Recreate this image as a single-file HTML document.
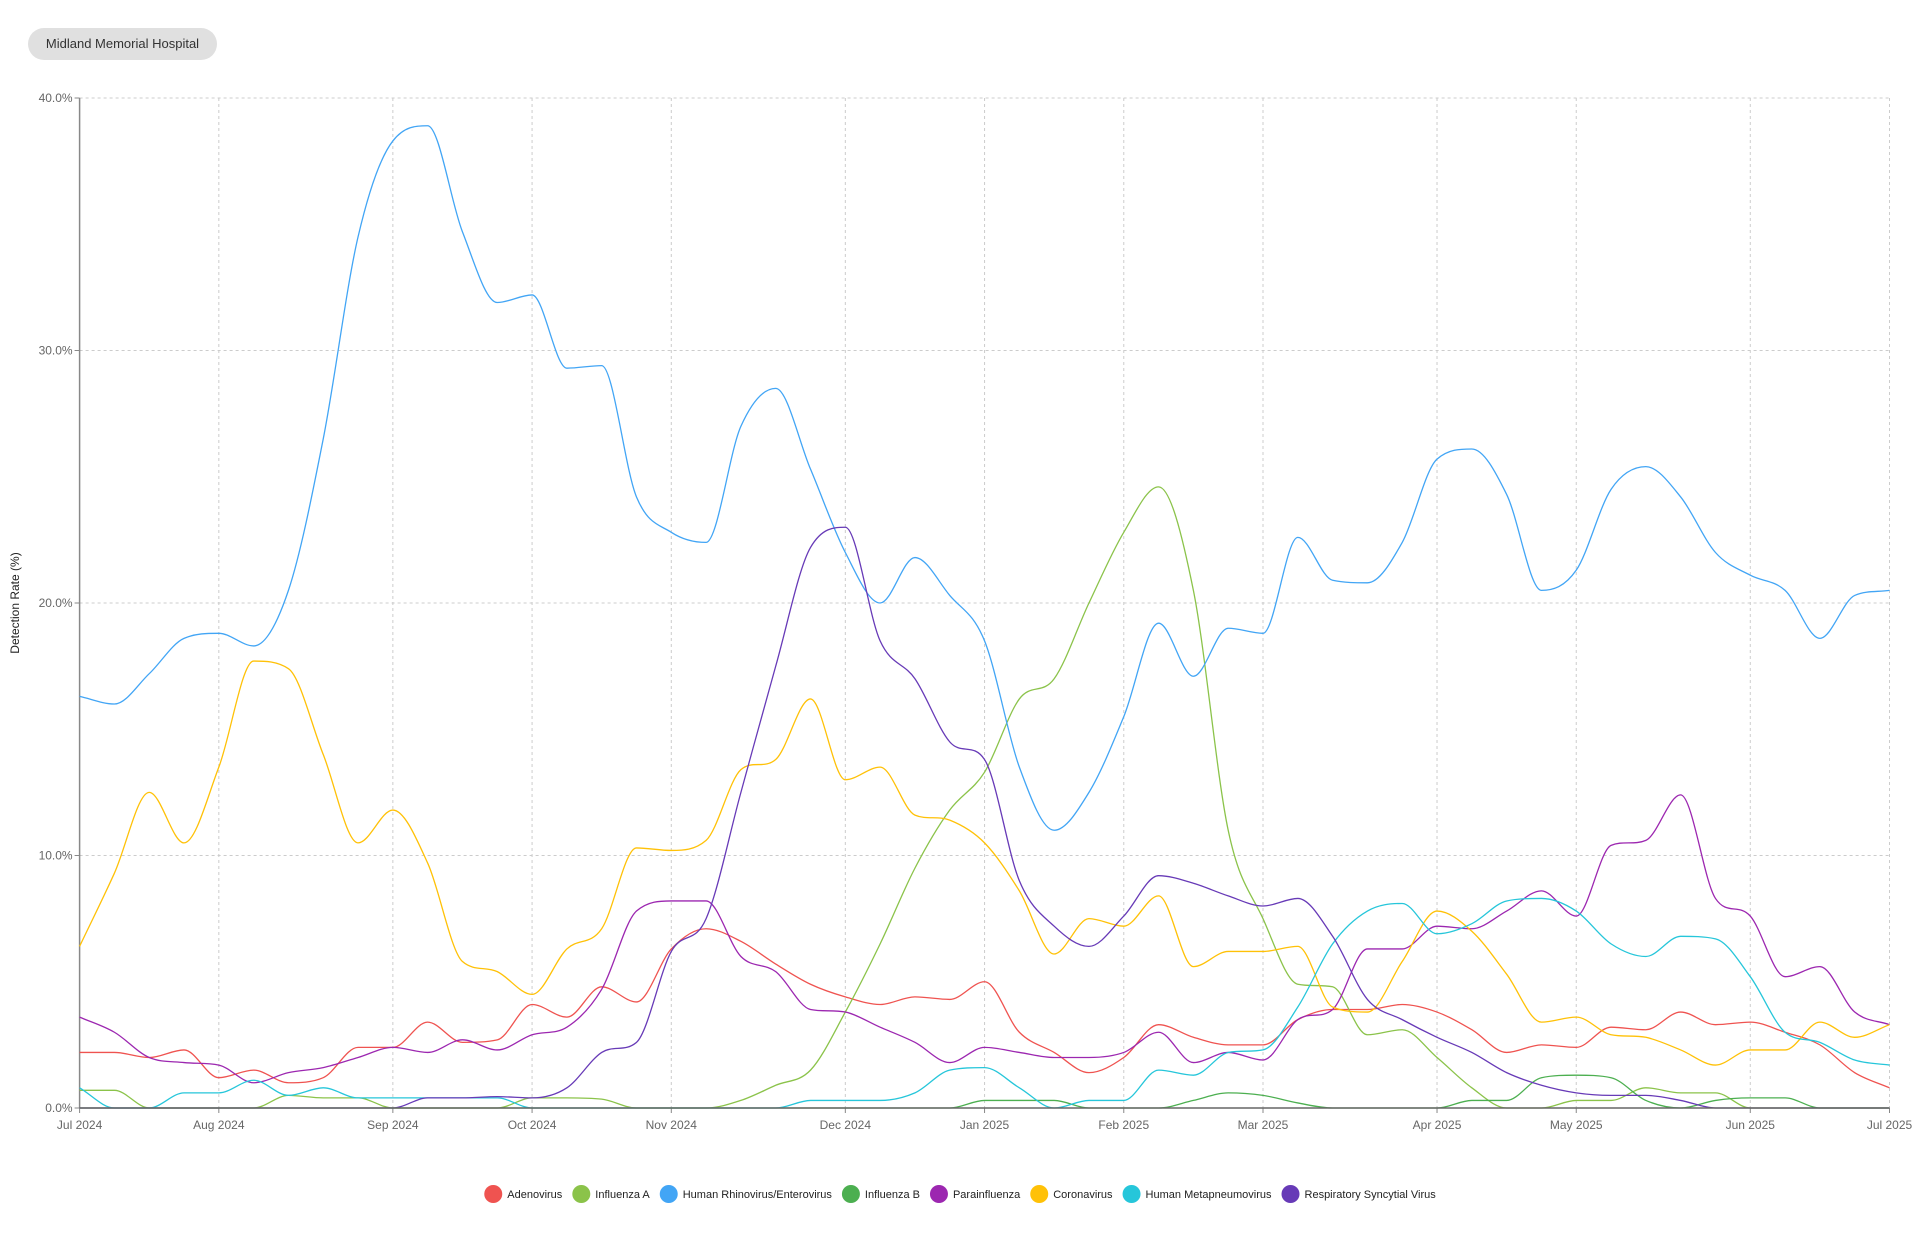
<!DOCTYPE html>
<html><head><meta charset="utf-8"><style>
body{margin:0;background:#fff;width:1920px;height:1246px;overflow:hidden;font-family:"Liberation Sans",sans-serif}
.pill{position:absolute;left:28px;top:28px;width:189px;height:32px;border-radius:16px;background:#e0e0e0;color:#333;font-size:13px;line-height:32px;text-align:center}
svg{position:absolute;left:0;top:0}
</style></head><body>
<div class="pill">Midland Memorial Hospital</div>
<svg id="chart" width="1920" height="1246"></svg>
<script>
const tickLabels=["Jul 2024","Aug 2024","Sep 2024","Oct 2024","Nov 2024","Dec 2024","Jan 2025","Feb 2025","Mar 2025","Apr 2025","May 2025","Jun 2025","Jul 2025"];
const tickWeeks=[0,4,9,13,17,22,26,30,34,39,43,48,52];
const yTicks=[0,10,20,30,40];
const seriesNames=["Adenovirus","Influenza A","Human Rhinovirus/Enterovirus","Influenza B","Parainfluenza","Coronavirus","Human Metapneumovirus","Respiratory Syncytial Virus"];
const adenovirus=[2.2,2.2,2.0,2.3,1.2,1.5,1.0,1.2,2.4,2.4,3.4,2.6,2.7,4.1,3.6,4.8,4.2,6.3,7.1,6.6,5.7,4.9,4.4,4.1,4.4,4.3,5.0,3.0,2.2,1.4,2.0,3.3,2.8,2.5,2.5,3.5,3.9,3.9,4.1,3.8,3.1,2.2,2.5,2.4,3.2,3.1,3.8,3.3,3.4,3.0,2.5,1.4,0.8];
const influenzaA=[0.7,0.7,0,0,0,0,0.5,0.4,0.4,0,0,0,0,0.4,0.4,0.35,0,0,0,0.3,0.9,1.5,3.8,6.5,9.5,11.8,13.3,16.2,17,20,22.8,24.6,20.5,11,7.5,4.9,4.8,2.9,3.1,2,0.8,0,0,0.3,0.3,0.8,0.6,0.6,0,0,0,0,0];
const rhinovirus=[16.3,16.0,17.2,18.6,18.8,18.3,20.5,26.5,34.5,38.3,38.9,34.7,31.9,32.2,29.3,29.4,24.2,22.8,22.4,27,28.5,25.3,22,20,21.8,20.3,18.5,13.5,11,12.5,15.5,19.2,17.1,19,18.8,22.6,20.9,20.8,22.4,25.7,26.1,24.3,20.5,21.3,24.5,25.4,24.2,22,21.1,20.5,18.6,20.3,20.5];
const influenzaB=[0,0,0,0,0,0,0,0,0,0,0,0,0,0,0,0,0,0,0,0,0,0,0,0,0,0,0.3,0.3,0.3,0,0,0,0.3,0.6,0.5,0.2,0,0,0,0,0.3,0.3,1.2,1.3,1.2,0.3,0,0.3,0.4,0.4,0,0,0];
const parainfluenza=[3.6,3.0,2.0,1.8,1.7,1.0,1.4,1.6,2.0,2.4,2.2,2.7,2.3,2.9,3.2,4.7,7.8,8.2,8.2,6.0,5.4,3.9,3.8,3.2,2.6,1.8,2.4,2.2,2.0,2.0,2.2,3.0,1.8,2.2,1.9,3.5,3.9,6.3,6.3,7.2,7.1,7.8,8.6,7.6,10.4,10.6,12.4,8.3,7.6,5.2,5.6,3.8,3.3];
const coronavirus=[6.4,9.3,12.5,10.5,13.5,17.7,17.4,14,10.5,11.8,9.7,5.8,5.4,4.5,6.3,7.1,10.3,10.2,10.6,13.4,13.8,16.2,13,13.5,11.6,11.4,10.5,8.6,6.1,7.5,7.2,8.4,5.6,6.2,6.2,6.4,4.0,3.8,5.8,7.8,7.0,5.3,3.4,3.6,2.9,2.8,2.3,1.7,2.3,2.3,3.4,2.8,3.3];
const metapneumovirus=[0.8,0,0,0.6,0.6,1.1,0.5,0.8,0.4,0.4,0.4,0.4,0.4,0,0,0,0,0,0,0,0,0.3,0.3,0.3,0.6,1.5,1.6,0.8,0,0.3,0.3,1.5,1.3,2.2,2.3,4.0,6.5,7.8,8.1,6.9,7.3,8.2,8.3,7.8,6.5,6.0,6.8,6.7,5.2,3.0,2.6,1.9,1.7];
const rsv=[0,0,0,0,0,0,0,0,0,0,0.4,0.4,0.45,0.4,0.8,2.2,2.6,6.2,7.5,12.5,17.5,22.2,23.0,18.5,17.0,14.5,13.8,9.0,7.2,6.4,7.6,9.2,8.9,8.4,8.0,8.3,6.8,4.3,3.5,2.8,2.2,1.4,0.9,0.6,0.5,0.5,0.3,0,0,0,0,0,0];
const seriesValues=[adenovirus,influenzaA,rhinovirus,influenzaB,parainfluenza,coronavirus,metapneumovirus,rsv];
const colors=["#ef5350","#8bc34a","#42a5f5","#4caf50","#9c27b0","#ffc107","#26c6da","#673ab7"];
const X0=79.6,X1=1889.5,Y0=1108,Y1=98,YMAX=40,NW=52;
const xS=i=>X0+(X1-X0)*i/NW, yS=v=>Y0-(Y0-Y1)*v/YMAX;
const svg=document.getElementById('chart'),NS="http://www.w3.org/2000/svg";
function mk(t,a,p){const e=document.createElementNS(NS,t);for(const k in a)e.setAttribute(k,a[k]);(p||svg).appendChild(e);return e;}
yTicks.forEach(v=>{const y=yS(v);
 if(v>0){const g=mk('line',{x1:X0,x2:X1,y1:y,y2:y,stroke:'#ccc','stroke-dasharray':'3,3'});
 
 }
 mk('line',{x1:X0-5,x2:X0,y1:y,y2:y,stroke:'#888'});
 const t=mk('text',{x:X0-7,y:y+4,'text-anchor':'end','font-size':12,fill:'#666'});t.textContent=v.toFixed(1)+'%';
 
 });
tickWeeks.forEach((w,k)=>{const x=xS(w);
 if(k>0){const g=mk('line',{x1:x,x2:x,y1:Y1,y2:Y0,stroke:'#ccc','stroke-dasharray':'3,3'});
 
 }
 mk('line',{x1:x,x2:x,y1:Y0,y2:Y0+5,stroke:'#888'});
 const t=mk('text',{x:x,y:Y0+21,'text-anchor':'middle','font-size':12,fill:'#666'});t.textContent=tickLabels[k];
 
 });
const ya=mk('line',{x1:X0,x2:X0,y1:Y1,y2:Y0,stroke:'#888','stroke-width':1.5});


const yt=mk('text',{x:0,y:0,transform:`translate(19,${(Y0+Y1)/2}) rotate(-90)`,'text-anchor':'middle','font-size':12,fill:'#222'});
yt.textContent='Detection Rate (%)';


function monoPath(pts){const n=pts.length,d=[],m=[];
 for(let i=0;i<n-1;i++)d.push((pts[i+1][1]-pts[i][1])/(pts[i+1][0]-pts[i][0]));
 m[0]=d[0];m[n-1]=d[n-2];
 for(let i=1;i<n-1;i++){if(d[i-1]*d[i]<=0)m[i]=0;else{m[i]=(d[i-1]+d[i])/2;const a=m[i]/d[i-1],b=m[i]/d[i],s=a*a+b*b;if(s>9){const t=3/Math.sqrt(s);m[i]=t*a*d[i-1];}}}
 for(let i=0;i<n-1;i++)if(d[i]===0){m[i]=0;m[i+1]=0;}
 let p=`M${pts[0][0]},${pts[0][1]}`;
 for(let i=0;i<n-1;i++){const h=(pts[i+1][0]-pts[i][0])/3;p+=`C${pts[i][0]+h},${pts[i][1]+m[i]*h} ${pts[i+1][0]-h},${pts[i+1][1]-m[i+1]*h} ${pts[i+1][0]},${pts[i+1][1]}`;}
 return p;}
seriesValues.forEach((vals,s)=>{const pts=vals.map((v,i)=>[xS(i),yS(v)]);
 const p=mk('path',{d:monoPath(pts),fill:'none',stroke:colors[s],'stroke-width':1.3});
 
 });
const xa=mk('line',{x1:X0,x2:X1,y1:Y0,y2:Y0,stroke:'#666','stroke-width':1.5});


const lg=mk('g',{});


let lx=0;
seriesNames.forEach((nm,s)=>{const g=mk('g',{},lg);
 
 
 mk('circle',{cx:lx+9,cy:1194,r:9,fill:colors[s]},g);
 const t=mk('text',{x:lx+23,y:1198,'font-size':11,fill:'#222'},g);t.textContent=nm;
 lx+=23+t.getComputedTextLength()+10;});
lg.setAttribute('transform',`translate(${(1920-lx+10)/2},0)`);
</script>
</body></html>
